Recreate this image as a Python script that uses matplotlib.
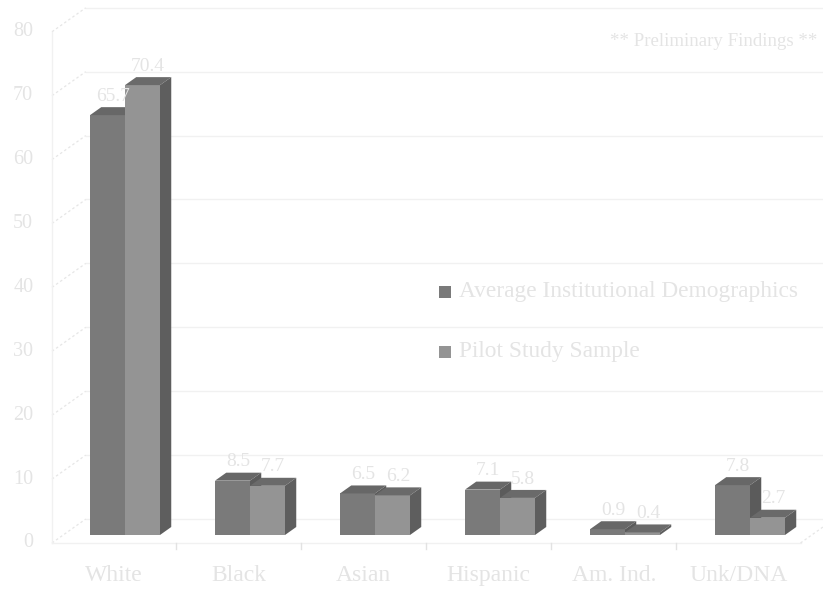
import numpy as np
import matplotlib
matplotlib.use('Agg')
import matplotlib.pyplot as plt
from matplotlib.patches import Polygon, Rectangle

# ethnicity breakdown, percent
categories = ['White', 'Black', 'Asian', 'Hispanic', 'Am. Ind.', 'Unk/DNA']
institutional = [65.7, 8.5, 6.5, 7.1, 0.9, 7.8]
pilot = [70.4, 7.7, 6.2, 5.8, 0.4, 2.7]
series_names = ['Average Institutional Demographics', 'Pilot Study Sample']
yticks = list(range(0, 90, 10))

plt.rcParams['font.family'] = ['Liberation Serif', 'DejaVu Serif']
txt = '#e4e4e4'
grid = '#f1f1f1'

# front / top / side shades for each series
shades = [('#7a7a7a', '#676767', '#5b5b5b'),
          ('#949494', '#6a6a6a', '#5e5e5e')]

fig = plt.figure(figsize=(8.23, 5.90), dpi=100)
ax = fig.add_axes([0, 0, 1, 1])
ax.set_xlim(-1.0, 5.584)
ax.set_ylim(-8.61, 83.72)
ax.axis('off')

DX, DY = 0.09, 1.25      # one depth step (oblique projection)
bw = 0.28                # bar width
x_left = -0.584
x_right = len(categories) - 1 - DX + 0.494

# back wall grid
wall_left = x_left + 3 * DX
for v in yticks:
    ax.plot([wall_left, 5.584], [v + 2 * DY, v + 2 * DY], color=grid, lw=1, zorder=1)
    ax.plot([x_left, wall_left], [v - DY, v + 2 * DY], color='#e6e6e6', lw=0.9,
            ls=(0, (2, 2)), zorder=1)
    ax.text(x_left - 0.15, v - DY, str(v), ha='right', va='center',
            fontsize=14.5, color=txt)
ax.plot([x_left, x_left], [-DY, yticks[-1] - DY], color=grid, lw=1, zorder=1)

# floor edges and category ticks
ax.plot([x_left, x_right], [-DY, -DY], color=grid, lw=1, zorder=1)
ax.plot([x_right, x_right + 3 * DX], [-DY, 2 * DY], color='#e6e6e6', lw=0.9,
        ls=(0, (2, 2)), zorder=1)
for i in range(len(categories) - 1):
    bx = i + 0.5 - DX
    ax.plot([bx, bx], [-DY, -DY - 1.0], color='#e2e2e2', lw=1, zorder=1)


def bar3d(x0, h, cols):
    front, top, side = cols
    x1 = x0 + bw
    ax.add_patch(Polygon([(x0, 0), (x1, 0), (x1, h), (x0, h)], closed=True,
                         facecolor=front, edgecolor='none', zorder=3))
    ax.add_patch(Polygon([(x0, h), (x1, h), (x1 + DX, h + DY), (x0 + DX, h + DY)],
                         closed=True, facecolor=top, edgecolor='none', zorder=3))
    ax.add_patch(Polygon([(x1, 0), (x1 + DX, DY), (x1 + DX, h + DY), (x1, h)],
                         closed=True, facecolor=side, edgecolor='none', zorder=3))


for i, cat in enumerate(categories):
    for k, vals in enumerate([institutional, pilot]):
        x0 = i - bw + k * bw
        bar3d(x0, vals[i], shades[k])
    for k, vals in enumerate([institutional, pilot]):
        x0 = i - bw + k * bw
        ax.text(x0 + bw / 2 + DX / 2, vals[i] + DY + 1.7, f'{vals[i]:.1f}',
                ha='center', va='center', fontsize=14, color=txt, zorder=5)
    ax.text(i - DX, -6.3, cat, ha='center', va='center', fontsize=17, color=txt)

# legend
for k, name in enumerate(series_names):
    ypix = 292 + 60 * k
    fig.patches.append(Rectangle((439 / 823, 1 - (ypix + 6) / 590), 12 / 823, 12 / 590,
                                 transform=fig.transFigure, facecolor=shades[k][0],
                                 edgecolor='none'))
    fig.text(459 / 823, 1 - ypix / 590, name, ha='left', va='center',
             fontsize=16.8, color=txt)

fig.text(714 / 823, 1 - 42 / 590, '** Preliminary Findings **', ha='center',
         va='center', fontsize=13.6, color=txt)

fig.savefig('out.png', dpi=100, facecolor='white')
